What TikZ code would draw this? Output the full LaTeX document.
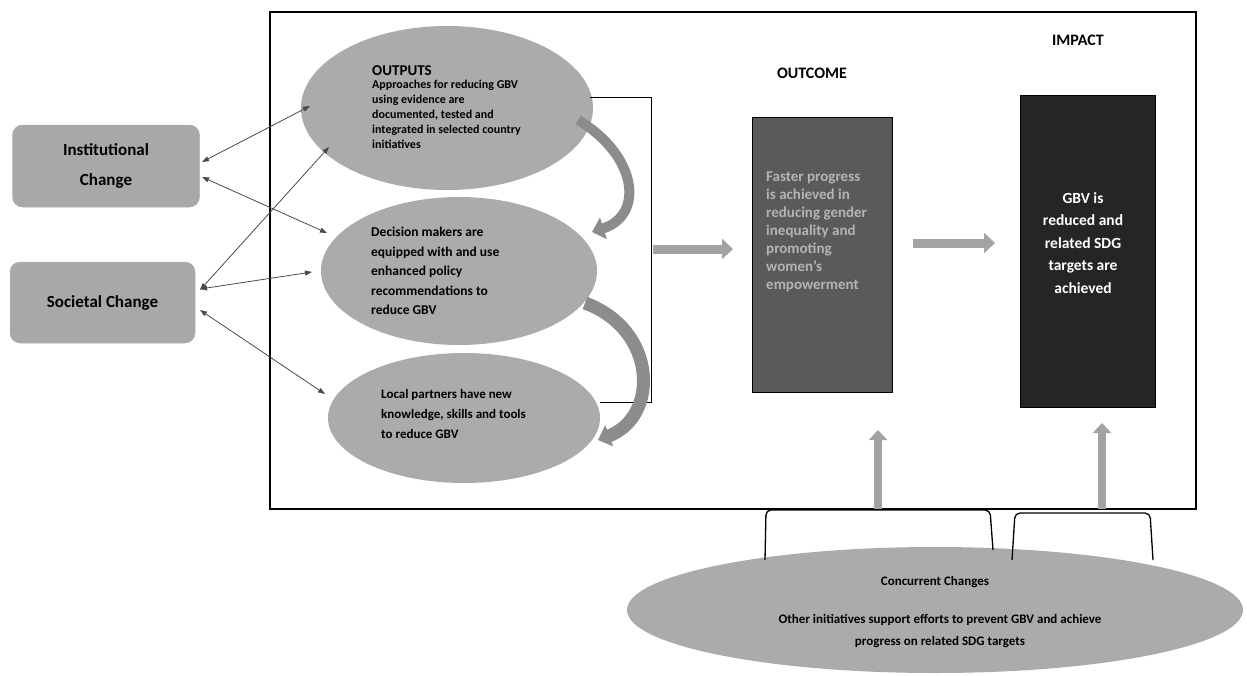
\documentclass[tikz,border=0pt]{standalone}
\usepackage{fontspec}
\setmainfont{Carlito}
\usetikzlibrary{arrows.meta,shapes.geometric}
\definecolor{ellgray}{HTML}{ABABAB}
\definecolor{boxgray}{HTML}{A8A8A8}
\definecolor{outgray}{HTML}{5A5A5A}
\definecolor{outtext}{HTML}{B4B4B4}
\definecolor{impgray}{HTML}{252525}
\definecolor{arrgray}{HTML}{A3A3A3}
\definecolor{curvegray}{HTML}{8C8C8C}
\definecolor{linkgray}{HTML}{4A4A4A}
\begin{document}
\begin{tikzpicture}[x=1pt,y=-1pt,
  changebox/.style={draw=gray!60, fill=boxgray, rounded corners=10pt, line width=0.5pt,
    font=\fontsize{17}{30}\selectfont\bfseries, align=center, inner sep=0pt},
  ell/.style={ellipse, fill=ellgray, draw=none, inner sep=0pt},
  txt/.style={inner sep=0pt, align=left, anchor=north west},
  link/.style={draw=linkgray, line width=0.8pt,
    {Triangle[length=7pt,width=5pt]}-{Triangle[length=7pt,width=5pt]}},
  curvearrow/.style={draw=curvegray, -{Triangle[width=22pt,length=12pt]}},
  blockarrow/.style={draw=arrgray, line width=9pt, -{Triangle[width=20pt,length=11pt]}},
  bracketline/.style={draw=black, line width=1.3pt, rounded corners=5pt},
  heading/.style={font=\fontsize{16}{19}\selectfont\bfseries, inner sep=0pt}
]
\useasboundingbox (0,0) rectangle (1247,675);
\fill[white] (0,0) rectangle (1247,675);

% main frame
\draw[line width=1.1pt] (270,12) rectangle (1196,509);

% left boxes
\node[changebox, minimum width=187pt, minimum height=82pt] (inst) at (106,166) {Institutional\\Change};
\node[changebox, minimum width=185pt, minimum height=81pt] (soc) at (102.5,302.5) {Societal Change};

% output ellipses
\node[ell, minimum width=292pt, minimum height=164pt] (e1) at (447,108) {};
\node[ell, minimum width=276pt, minimum height=148pt] (e2) at (459,271) {};
\node[ell, minimum width=272pt, minimum height=130pt] (e3) at (464,418) {};

\node[heading, anchor=west, font=\fontsize{15}{18}\selectfont\bfseries] (outputs) at (372,71) {OUTPUTS};
\node[txt, font=\fontsize{12}{15}\selectfont\bfseries] (t1) at (372,80)
  {Approaches for reducing GBV\\using evidence are\\documented, tested and\\integrated in selected country\\initiatives};
\node[txt, font=\fontsize{13.5}{19.5}\selectfont\bfseries] (t2) at (371,227)
  {Decision makers are\\equipped with and use\\enhanced policy\\recommendations to\\reduce GBV};
\node[txt, font=\fontsize{13}{20}\selectfont\bfseries] (t3) at (381,389)
  {Local partners have new\\knowledge, skills and tools\\to reduce GBV};

% bracket around outputs
\coordinate (bA) at (590,97);
\coordinate (bB) at (651,97);
\coordinate (bC) at (651,402);
\coordinate (bD) at (600,402);
\coordinate (bM) at (653,249);
\draw[line width=1pt] (bA) -- (bB) -- (bC) -- (bD);

% curved arrows between outputs
\draw[curvearrow, line width=10pt] (578,120) .. controls (637,155) and (645,215) .. (592,232);
\draw[curvearrow, line width=13pt] (585,303) .. controls (658,330) and (659,417) .. (598,440);

% links
\coordinate (i1) at (202,162); \coordinate (o1) at (310,106);
\coordinate (i2) at (202,177); \coordinate (o2) at (327,233);
\coordinate (s1) at (200,290); \coordinate (o3) at (329,147);
\coordinate (s2) at (200,289); \coordinate (o4) at (312,272);
\coordinate (s3) at (200,310); \coordinate (o5) at (325,394);
\draw[link] (i1) -- (o1);
\draw[link] (i2) -- (o2);
\draw[link] (s1) -- (o3);
\draw[link] (s2) -- (o4);
\draw[link] (s3) -- (o5);

% outcome
\node[heading] (outcomeh) at (812,73) {OUTCOME};
\node[draw=black, line width=0.6pt, fill=outgray, minimum width=140pt, minimum height=275pt, inner sep=0pt] (outcome) at (822,254.5) {};
\node[txt, text=outtext, font=\fontsize{15}{18}\selectfont\bfseries] (outt) at (766,172)
  {Faster progress\\is achieved in\\reducing gender\\inequality and\\promoting\\women's\\empowerment};

% impact
\node[heading] (impacth) at (1078,40) {IMPACT};
\node[draw=black, line width=0.6pt, fill=impgray, minimum width=135pt, minimum height=312pt, inner sep=0pt] (impact) at (1087.5,251) {};
\node[inner sep=0pt, align=center, text=white, font=\fontsize{15.5}{22.5}\selectfont\bfseries] (impt) at (1083,243)
  {GBV is\\reduced and\\related SDG\\targets are\\achieved};

% block arrows
\draw[blockarrow] (bM) -- (733,249);
\coordinate (oc1) at (913,243);
\draw[blockarrow] (oc1) -- (995,243);

% concurrent changes
\node[ell, minimum width=616pt, minimum height=126pt] (conc) at (935,610) {};
\node[inner sep=0pt, font=\fontsize{13}{16}\selectfont\bfseries] (conch) at (935,582) {Concurrent Changes};
\node[inner sep=0pt, align=center, font=\fontsize{13}{22}\selectfont\bfseries] (conct) at (940,631)
  {Other initiatives support efforts to prevent GBV and achieve\\progress on related SDG targets};

% brackets from concurrent ellipse
\coordinate (k1a) at (765,560); \coordinate (k1b) at (766,510); \coordinate (k1c) at (990,510); \coordinate (k1d) at (993,550);
\coordinate (k2a) at (1012,560); \coordinate (k2b) at (1015,513); \coordinate (k2c) at (1150,513); \coordinate (k2d) at (1153,560);
\draw[bracketline] (k1a) -- (k1b) -- (k1c) -- (k1d);
\draw[bracketline] (k2a) -- (k2b) -- (k2c) -- (k2d);

% up arrows
\coordinate (u1) at (878,509); \coordinate (u2) at (1102,509);
\draw[blockarrow, line width=8pt, -{Triangle[width=18pt,length=10pt]}] (u1) -- (878,430);
\draw[blockarrow, line width=8pt, -{Triangle[width=18pt,length=10pt]}] (u2) -- (1102,423);
\end{tikzpicture}
\end{document}
